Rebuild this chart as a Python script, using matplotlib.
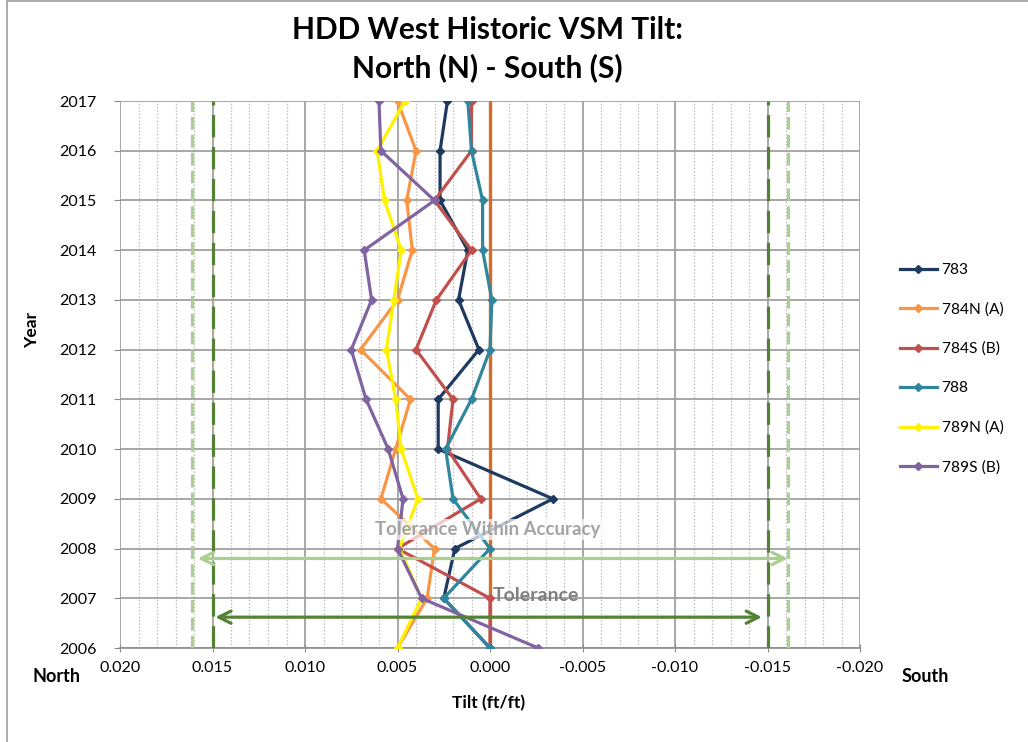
import matplotlib
matplotlib.use("Agg")
import matplotlib.pyplot as plt
from matplotlib.ticker import MultipleLocator, FormatStrFormatter
from matplotlib.lines import Line2D

plt.rcParams['font.family'] = ['Lato', 'DejaVu Sans']

years = [2006, 2007, 2008, 2009, 2010, 2011, 2012, 2013, 2014, 2015, 2016, 2017]
s783 = [0.0, 0.0025, 0.0019, -0.0034, 0.0028, 0.0028, 0.0006, 0.0017, 0.0012, 0.0027, 0.0027, 0.0023]
s784N = [0.0050, 0.0034, 0.0030, 0.0059, 0.0051, 0.0043, 0.0070, 0.0050, 0.0042, 0.0045, 0.0040, 0.0050]
s784S = [0.0, 0.0, 0.0050, 0.0005, 0.0023, 0.0020, 0.0040, 0.0029, 0.0010, 0.0030, 0.0010, 0.0010]
s788 = [0.0, 0.0025, 0.0, 0.0020, 0.0024, 0.0010, 0.0, -0.0001, 0.0004, 0.0004, 0.0010, 0.0012]
s789N = [0.0050, 0.0037, 0.0049, 0.0039, 0.0048, 0.0051, 0.0056, 0.0052, 0.0048, 0.0057, 0.0061, 0.0046]
s789S = [-0.0026, 0.0037, 0.0050, 0.0047, 0.0055, 0.0067, 0.0075, 0.0064, 0.0068, 0.0030, 0.0059, 0.0060]

series_names = ['783', '784N (A)', '784S (B)', '788', '789N (A)', '789S (B)']
series_values = [s783, s784N, s784S, s788, s789N, s789S]
series_colors = ['#1F3A60', '#F79646', '#C0504D', '#31859C', '#FFF200', '#8064A2']

zero_line_x = [0.0, 0.0]
zero_line_years = [2006, 2017]

tolerance = 0.015
tolerance_accuracy = 0.0161
arrow_year_accuracy = 2007.80
arrow_year_tolerance = 2006.62

fig = plt.figure(figsize=(10.28, 7.42), dpi=100)
ax = fig.add_axes([120/1028, 1 - 648/742, 740/1028, 547/742])

ax.set_xlim(0.020, -0.020)
ax.set_ylim(2006, 2017)
ax.xaxis.set_major_locator(MultipleLocator(0.005))
ax.xaxis.set_minor_locator(MultipleLocator(0.001))
ax.xaxis.set_major_formatter(FormatStrFormatter('%.3f'))
ax.yaxis.set_major_locator(MultipleLocator(1))
ax.yaxis.set_major_formatter(FormatStrFormatter('%d'))

ax.grid(which='major', axis='both', color='#A0A0A0', lw=1.3, zorder=0)
ax.grid(which='minor', axis='x', color='#BDBDBD', lw=0.9, ls=(0, (1.2, 1.5)), zorder=0)
ax.set_axisbelow(True)
for side in ['top', 'right', 'left']:
    ax.spines[side].set_visible(False)
ax.spines['bottom'].set_color('#8C8C8C')
ax.spines['bottom'].set_linewidth(1.2)
ax.tick_params(axis='x', which='major', direction='inout', length=6, color='#8C8C8C',
               labelsize=11.5, pad=6)
ax.tick_params(axis='x', which='minor', length=0)
ax.tick_params(axis='y', which='major', direction='out', length=4, color='#8C8C8C',
               labelsize=11.5, pad=13)

# zero reference line
ax.plot(zero_line_x, zero_line_years, color='#DA6A28', lw=2.4, zorder=2)

for name, vals, col in zip(series_names, series_values, series_colors):
    ax.plot(vals, years, color=col, lw=2.3, marker='D', markersize=4.2,
            markeredgecolor=col, label=name, zorder=3)

# tolerance lines
for xv in (tolerance, -tolerance):
    ax.plot([xv, xv], [2006, 2017], color='#548235', lw=2.3, ls=(0, (7, 3)), zorder=4)
for xv in (tolerance_accuracy, -tolerance_accuracy):
    ax.plot([xv, xv], [2006, 2017], color='#A9D08E', lw=2.3, ls=(0, (4, 1.6)), zorder=4)

ax.annotate('', xy=(tolerance_accuracy - 0.0003, arrow_year_accuracy),
            xytext=(-tolerance_accuracy, arrow_year_accuracy),
            arrowprops=dict(arrowstyle='<->', color='#A9D08E', lw=2.3,
                            mutation_scale=22, shrinkA=0, shrinkB=0), zorder=5)
ax.annotate('', xy=(tolerance - 0.00015, arrow_year_tolerance),
            xytext=(-tolerance + 0.0003, arrow_year_tolerance),
            arrowprops=dict(arrowstyle='<->', color='#548235', lw=2.3,
                            mutation_scale=22, shrinkA=0, shrinkB=0), zorder=5)

ax.text(0.0001, 2008.38, 'Tolerance Within Accuracy', ha='center', va='center',
        fontsize=13.4, fontweight='bold', color='#A3A3A3', zorder=6,
        bbox=dict(facecolor='white', alpha=0.7, edgecolor='none', pad=1.5))
ax.text(-0.0025, 2007.06, 'Tolerance', ha='center', va='center',
        fontsize=14, fontweight='bold', color='#808080', zorder=6)

leg = ax.legend(loc='upper left', bbox_to_anchor=(1.045, 0.715),
                frameon=False, fontsize=11.2, handlelength=2.4,
                labelspacing=1.62, handletextpad=0.3, borderaxespad=0)

fig.text(487/1028, 1 - 30/742, 'HDD West Historic VSM Tilt:', ha='center', va='center',
         fontsize=21.5, fontweight='bold')
fig.text(487/1028, 1 - 68/742, 'North (N) - South (S)', ha='center', va='center',
         fontsize=21.5, fontweight='bold')
fig.text(32/1028, 1 - 330/742, 'Year', rotation=90, ha='center', va='center',
         fontsize=12.5, fontweight='bold')
fig.text(489/1028, 1 - 703/742, 'Tilt (ft/ft)', ha='center', va='center',
         fontsize=12.5, fontweight='bold')
fig.text(57/1028, 1 - 677/742, 'North', ha='center', va='center',
         fontsize=13, fontweight='bold')
fig.text(925/1028, 1 - 677/742, 'South', ha='center', va='center',
         fontsize=13, fontweight='bold')

# chart-area border
fig.add_artist(Line2D([7/1028, 7/1028], [0, 1 - 1/742], color='#A6A6A6', lw=1.3))
fig.add_artist(Line2D([7/1028, 1.0], [1 - 1/742, 1 - 1/742], color='#A6A6A6', lw=1.3))

fig.savefig('out.png', dpi=100)
